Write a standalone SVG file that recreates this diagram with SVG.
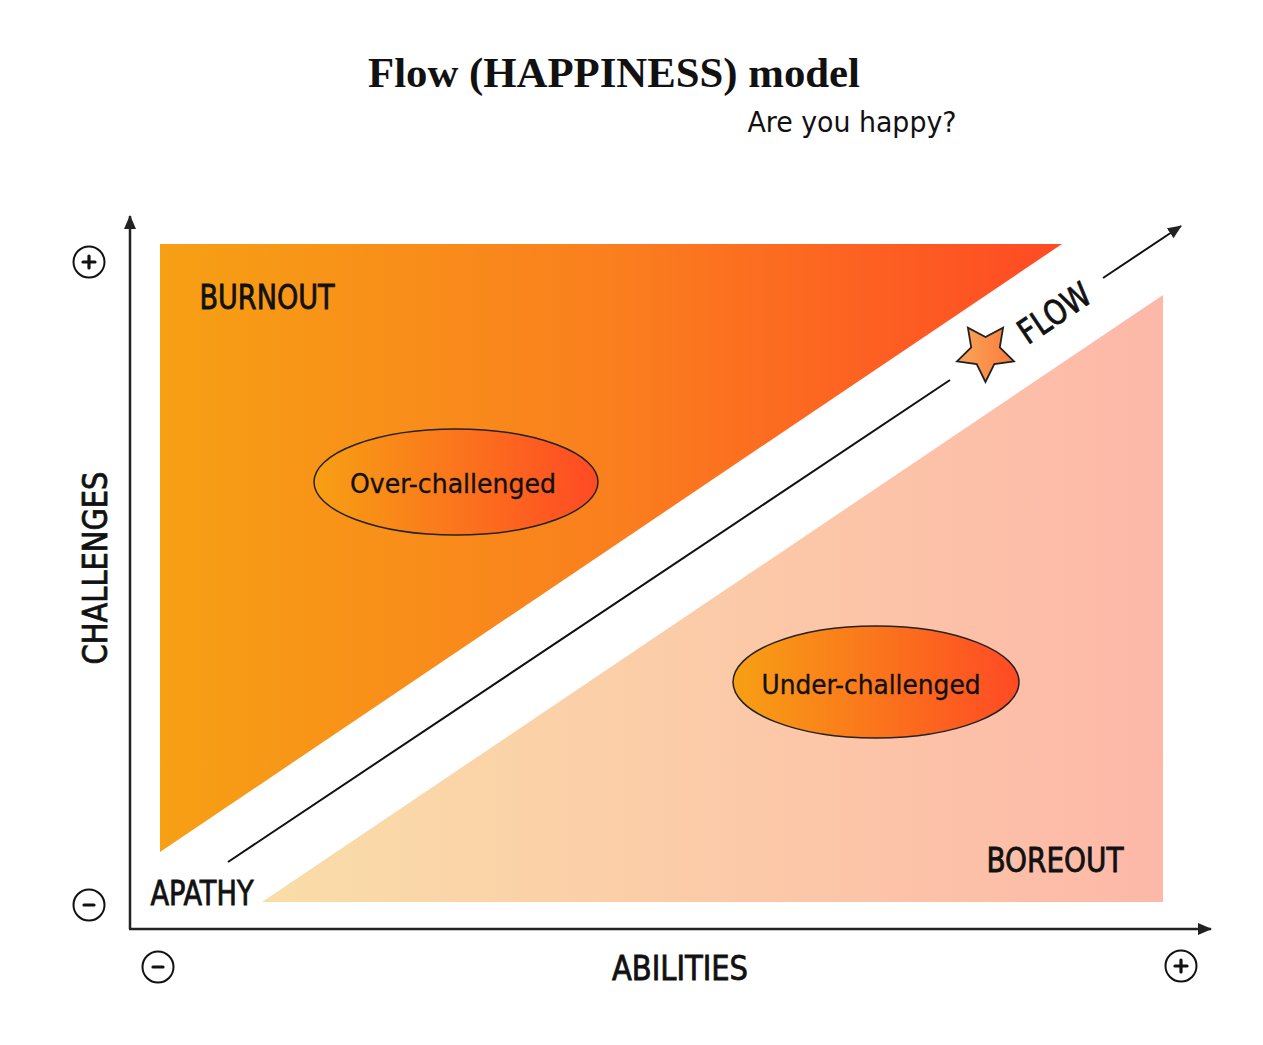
<svg xmlns="http://www.w3.org/2000/svg" width="1263" height="1045" viewBox="0 0 1263 1045">
<style>
.hand{font-family:"Liberation Sans Narrow","DejaVu Sans Condensed","Liberation Sans",sans-serif;fill:#111;}
.lbl{font-size:34px;stroke:#111;stroke-width:0.8;}
.oval{font-size:26px;stroke:#111;stroke-width:0.3;}
.sym{fill:#fff;stroke:#111;stroke-width:2;}
.sign{stroke:#111;stroke-width:3.2;stroke-linecap:round;}
.axis{stroke:#222;stroke-width:2.5;fill:none;}
</style>
<defs>
<linearGradient id="gBurn" x1="0" y1="0" x2="1" y2="0">
<stop offset="0" stop-color="#F7A014"/>
<stop offset="0.5" stop-color="#FA7F1E"/>
<stop offset="1" stop-color="#FF4A24"/>
</linearGradient>
<linearGradient id="gBore" x1="0" y1="0" x2="1" y2="0">
<stop offset="0" stop-color="#FADDA8"/>
<stop offset="1" stop-color="#FDB8A8"/>
</linearGradient>
<linearGradient id="gOval" x1="0" y1="0" x2="1" y2="0">
<stop offset="0" stop-color="#F7A014"/>
<stop offset="1" stop-color="#FF4A24"/>
</linearGradient>
<linearGradient id="gStar" x1="0" y1="0" x2="1" y2="0">
<stop offset="0" stop-color="#F6A85A"/>
<stop offset="1" stop-color="#FF7A3C"/>
</linearGradient>
<marker id="arr" markerWidth="14" markerHeight="12" refX="13" refY="6" orient="auto" markerUnits="userSpaceOnUse">
<path d="M0,0 L14,6 L0,12 Z" fill="#222"/>
</marker>
</defs>
<rect width="1263" height="1045" fill="#fff"/>

<g id="title">
<text x="614" y="87" text-anchor="middle" font-family="Liberation Serif,serif" font-weight="bold" font-size="42" textLength="492" lengthAdjust="spacingAndGlyphs" fill="#111">Flow (HAPPINESS) model</text>
<text x="852" y="132" text-anchor="middle" class="hand" font-size="28" textLength="209" lengthAdjust="spacingAndGlyphs">Are you happy?</text>
</g>

<g id="burnout">
<polygon points="160,244 1062,244 160,852" fill="url(#gBurn)"/>
<text x="267" y="309" text-anchor="middle" class="hand lbl" textLength="135" lengthAdjust="spacingAndGlyphs">BURNOUT</text>
</g>

<g id="boreout">
<polygon points="262,902 1163,295 1163,902" fill="url(#gBore)"/>
<text x="1055" y="872" text-anchor="middle" class="hand lbl" textLength="137" lengthAdjust="spacingAndGlyphs">BOREOUT</text>
</g>

<g id="over-challenged">
<ellipse cx="456" cy="482" rx="142" ry="53" fill="url(#gOval)" stroke="#222" stroke-width="1.5"/>
<text x="453" y="493" text-anchor="middle" class="hand oval" textLength="206" lengthAdjust="spacingAndGlyphs">Over-challenged</text>
</g>

<g id="under-challenged">
<ellipse cx="876" cy="682" rx="143" ry="56" fill="url(#gOval)" stroke="#222" stroke-width="1.5"/>
<text x="871" y="694" text-anchor="middle" class="hand oval" textLength="219" lengthAdjust="spacingAndGlyphs">Under-challenged</text>
</g>

<g id="connectors">
<line class="axis" x1="130" y1="929" x2="130" y2="216" marker-end="url(#arr)"/>
<line class="axis" x1="129" y1="929" x2="1211" y2="929" marker-end="url(#arr)"/>
<line x1="228" y1="862" x2="950" y2="380" stroke="#111" stroke-width="2"/>
<line x1="1103" y1="278" x2="1181" y2="226" stroke="#111" stroke-width="2" marker-end="url(#arr)"/>
</g>

<g id="flow">
<polygon points="985.5,382 976.7,364.1 957,361.3 971.2,347.4 967.9,327.7 985.5,337 1003.1,327.7 999.8,347.4 1014,361.3 994.3,364.1" fill="url(#gStar)" stroke="#222" stroke-width="1.8" stroke-linejoin="miter"/>
<text transform="translate(1061,323) rotate(-34)" text-anchor="middle" class="hand lbl" textLength="80" lengthAdjust="spacingAndGlyphs">FLOW</text>
</g>

<g id="apathy">
<text x="202" y="905" text-anchor="middle" class="hand lbl" textLength="103" lengthAdjust="spacingAndGlyphs">APATHY</text>
</g>

<g id="challenges">
<text transform="translate(107,568) rotate(-90)" text-anchor="middle" class="hand lbl" textLength="193" lengthAdjust="spacingAndGlyphs">CHALLENGES</text>
</g>

<g id="abilities">
<text x="680" y="980" text-anchor="middle" class="hand lbl" textLength="136" lengthAdjust="spacingAndGlyphs">ABILITIES</text>
</g>

<g id="y-plus">
<circle class="sym" cx="89" cy="262" r="15.5"/>
<line class="sign" x1="83" y1="262" x2="95" y2="262"/>
<line class="sign" x1="89" y1="256" x2="89" y2="268"/>
</g>
<g id="y-minus">
<circle class="sym" cx="89" cy="905" r="15.5"/>
<line class="sign" x1="84" y1="905" x2="94" y2="905"/>
</g>
<g id="x-minus">
<circle class="sym" cx="158" cy="967" r="15.5"/>
<line class="sign" x1="153" y1="967" x2="163" y2="967"/>
</g>
<g id="x-plus">
<circle class="sym" cx="1181" cy="966" r="15.5"/>
<line class="sign" x1="1175" y1="966" x2="1187" y2="966"/>
<line class="sign" x1="1181" y1="960" x2="1181" y2="972"/>
</g>
</svg>
